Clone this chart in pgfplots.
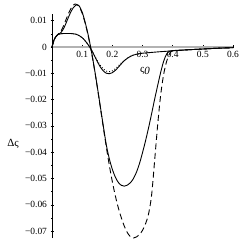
\documentclass[border=0pt]{standalone}
\usepackage{pgfplots}
\pgfplotsset{compat=1.18}
\usepackage{fontspec}
\setmainfont{Liberation Serif}
\begin{document}
\begin{tikzpicture}
\useasboundingbox (-52bp,-5bp) rectangle (191bp,238bp);
\begin{axis}[
  scale only axis, width=181bp, height=224bp,
  xmin=0, xmax=0.6, ymin=-0.0726, ymax=0.0125,
  axis lines=middle, clip=false,
  x axis line style={-, gray!60, line width=1.3pt},
  y axis line style={-, black, line width=0.5pt},
  xtick={0.1,0.2,0.3,0.4,0.5,0.6},
  xticklabels={0.1,0.2,0.3,0.4,0.5,0.6},
  minor xtick={0.05,0.15,0.25,0.35,0.45,0.55},
  ytick={-0.07,-0.06,-0.05,-0.04,-0.03,-0.02,-0.01,0,0.01},
  yticklabels={−0.07,−0.06,−0.05,−0.04,−0.03,−0.02,−0.01,0,0.01},
  minor ytick={-0.065,-0.055,-0.045,-0.035,-0.025,-0.015,-0.005,0.005},
  hide obscured y ticks=false,
  scaled y ticks=false, scaled x ticks=false,
  tick align=center, major tick length=3bp, minor tick length=2bp,
  every tick/.style={black, line width=0.4pt},
  tick label style={font=\fontsize{9.5}{10}\selectfont},
  xticklabel style={yshift=1bp},
]
\addplot[black, line width=0.9pt, smooth] table {
0 0
0.003 0.0012
0.006 0.0024
0.01 0.0034
0.015 0.0042
0.02 0.0047
0.03 0.0050
0.04 0.0051
0.05 0.0051
0.06 0.0051
0.07 0.0050
0.08 0.0048
0.09 0.0043
0.10 0.0035
0.11 0.0023
0.12 0.0008
0.13 -0.0010
0.14 -0.0032
0.15 -0.0055
0.16 -0.0076
0.17 -0.0091
0.18 -0.0100
0.19 -0.0102
0.20 -0.0098
0.21 -0.0089
0.22 -0.0077
0.23 -0.0064
0.24 -0.0052
0.25 -0.0043
0.26 -0.0036
0.27 -0.0031
0.28 -0.0028
0.30 -0.0024
0.32 -0.0022
0.35 -0.0019
0.40 -0.0015
0.45 -0.0011
0.50 -0.0008
0.55 -0.0005
0.60 -0.0003
};
\addplot[black, line width=0.9pt, dotted, smooth] table {
0 0
0.003 0.0012
0.006 0.0024
0.01 0.0034
0.015 0.0042
0.02 0.0047
0.03 0.0050
0.04 0.0051
0.05 0.0051
0.06 0.0051
0.07 0.0050
0.08 0.0048
0.09 0.0043
0.10 0.0035
0.11 0.0023
0.12 0.0008
0.13 -0.0010
0.14 -0.0031
0.15 -0.0052
0.16 -0.0070
0.17 -0.0084
0.18 -0.0092
0.19 -0.0094
0.20 -0.0091
0.21 -0.0083
0.22 -0.0072
0.23 -0.0061
0.24 -0.0051
0.25 -0.0043
0.26 -0.0036
0.27 -0.0031
0.28 -0.0028
0.30 -0.0024
};
\addplot[black, line width=0.9pt, smooth] table {
0 0
0.003 0.0012
0.006 0.0024
0.01 0.0034
0.015 0.0042
0.02 0.0047
0.03 0.0055
0.04 0.0073
0.05 0.0100
0.06 0.0127
0.07 0.0148
0.08 0.0159
0.085 0.0160
0.09 0.0156
0.10 0.0132
0.11 0.0093
0.12 0.0045
0.13 -0.0012
0.14 -0.0078
0.15 -0.0150
0.16 -0.0225
0.17 -0.0300
0.18 -0.0372
0.19 -0.0425
0.20 -0.0465
0.21 -0.0495
0.22 -0.0515
0.23 -0.0526
0.24 -0.0529
0.25 -0.0525
0.26 -0.0516
0.27 -0.0500
0.28 -0.0476
0.29 -0.0443
0.30 -0.0402
0.31 -0.0357
0.32 -0.0308
0.33 -0.0255
0.34 -0.0200
0.35 -0.0148
0.36 -0.0098
0.37 -0.0055
0.38 -0.0027
0.39 -0.0017
0.40 -0.0014
0.45 -0.0011
0.50 -0.0008
0.55 -0.0005
0.60 -0.0003
};
\addplot[black, line width=0.9pt, dash pattern=on 6bp off 3.5bp, smooth] table {
0 0
0.003 0.0012
0.006 0.0024
0.01 0.0034
0.015 0.0042
0.02 0.0048
0.03 0.0060
0.04 0.0085
0.05 0.0114
0.06 0.0140
0.07 0.0158
0.076 0.0163
0.08 0.0162
0.09 0.0153
0.10 0.0128
0.11 0.0090
0.12 0.0042
0.13 -0.0015
0.14 -0.0080
0.15 -0.0152
0.16 -0.0228
0.17 -0.0305
0.18 -0.0380
0.19 -0.0450
0.20 -0.0512
0.21 -0.0566
0.22 -0.0612
0.23 -0.0650
0.24 -0.0682
0.25 -0.0706
0.26 -0.0721
0.27 -0.0726
0.28 -0.0722
0.29 -0.0713
0.30 -0.0697
0.31 -0.0672
0.32 -0.0635
0.33 -0.0565
0.34 -0.0435
0.35 -0.0300
0.36 -0.0185
0.37 -0.0105
0.38 -0.0055
0.39 -0.0025
0.40 -0.0016
0.45 -0.0011
0.50 -0.0008
0.55 -0.0005
0.60 -0.0003
};
\node[font=\fontsize{11}{12}\selectfont] at (axis cs:-0.129,-0.0369) {Δς};
\node[font=\fontsize{11}{12}\selectfont] at (axis cs:0.308,-0.0091) {ς\raisebox{-0.4ex}{\itshape 0}};
\end{axis}
\end{tikzpicture}
\end{document}
